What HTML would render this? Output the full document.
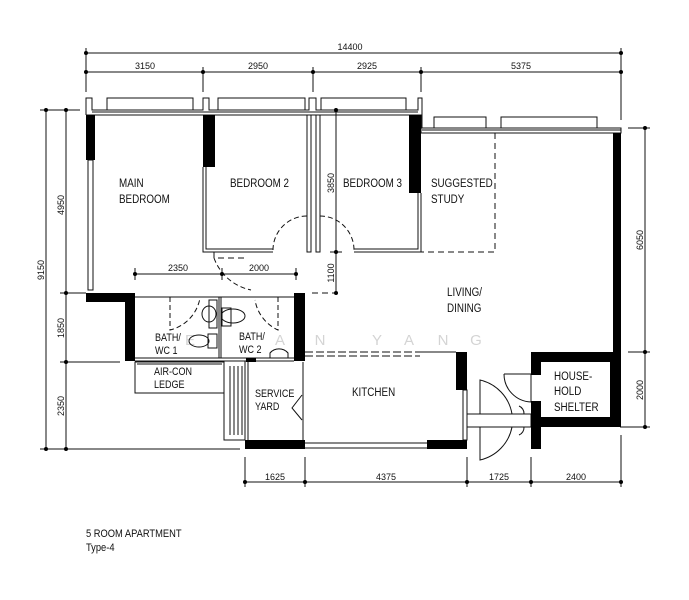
<!DOCTYPE html>
<html><head><meta charset="utf-8"><style>
html,body{margin:0;padding:0;background:#fff;}
svg{display:block;}
text{font-family:"Liberation Sans Narrow","Liberation Sans",sans-serif;fill:#111;}
</style></head><body>
<svg width="689" height="600" viewBox="0 0 689 600" xmlns="http://www.w3.org/2000/svg">
<g font-size="15" text-anchor="middle" style="fill:#d4d4d4">
<text x="190" y="345" style="fill:#d4d4d4">E</text>
<text x="280" y="345" style="fill:#d4d4d4">A</text>
<text x="320" y="345" style="fill:#d4d4d4">N</text>
<text x="377" y="345" style="fill:#d4d4d4">Y</text>
<text x="409" y="345" style="fill:#d4d4d4">A</text>
<text x="443" y="345" style="fill:#d4d4d4">N</text>
<text x="476" y="345" style="fill:#d4d4d4">G</text>
</g>
<g stroke="#111" stroke-width="1" fill="none">
<line x1="86" y1="53" x2="621" y2="53"/>
<line x1="86" y1="72" x2="621" y2="72"/>
<line x1="86" y1="48" x2="86" y2="92"/>
<line x1="203" y1="67" x2="203" y2="92"/>
<line x1="313" y1="67" x2="313" y2="92"/>
<line x1="421" y1="67" x2="421" y2="92"/>
<line x1="621" y1="48" x2="621" y2="120"/>
<line x1="46" y1="110" x2="46" y2="449"/>
<line x1="66" y1="110" x2="66" y2="449"/>
<line x1="40" y1="110" x2="80" y2="110"/>
<line x1="60" y1="293" x2="86" y2="293"/>
<line x1="60" y1="362" x2="120" y2="362"/>
<line x1="40" y1="449" x2="240" y2="449"/>
<line x1="645" y1="128" x2="645" y2="427"/>
<line x1="628" y1="128" x2="650" y2="128"/>
<line x1="628" y1="352" x2="650" y2="352"/>
<line x1="620" y1="427" x2="650" y2="427"/>
<line x1="245" y1="482" x2="621" y2="482"/>
<line x1="245" y1="457" x2="245" y2="487"/>
<line x1="305" y1="457" x2="305" y2="487"/>
<line x1="467" y1="457" x2="467" y2="487"/>
<line x1="531" y1="457" x2="531" y2="487"/>
<line x1="621" y1="435" x2="621" y2="487"/>
<line x1="135" y1="274" x2="296" y2="274"/>
<line x1="135" y1="268" x2="135" y2="280"/>
<line x1="222" y1="268" x2="222" y2="280"/>
<line x1="296" y1="268" x2="296" y2="280"/>
<line x1="336" y1="110" x2="336" y2="293"/>
<line x1="330" y1="252" x2="342" y2="252"/>
<line x1="312" y1="293" x2="340" y2="293" stroke-dasharray="6,4"/>
<polyline points="86,115 86,98 92,98 92,110 203,110 203,98 209,98 209,110 309,110 309,98 316,98 316,110 418,110 418,98 422,98 422,128 621,128 621,133 421,133 421,115 86,115"/>
<line x1="92" y1="112" x2="418" y2="112"/>
<rect x="107" y="98" width="86" height="12"/>
<rect x="218" y="98" width="87" height="12"/>
<rect x="321" y="98" width="85" height="12"/>
<rect x="434" y="117" width="52" height="11"/>
<rect x="501" y="117" width="96" height="11"/>
<line x1="422" y1="130" x2="621" y2="130"/>
<rect x="88" y="160" width="5" height="130"/>
<polyline points="203,167 203,252 273,252"/>
<polyline points="206,167 206,249 273,249"/>
<path d="M273,250 A34,34 0 0 1 307,216" stroke-dasharray="5,3"/>
<line x1="307" y1="216" x2="307" y2="252" stroke-dasharray="5,3"/>
<rect x="307" y="115" width="4" height="137"/>
<rect x="316" y="115" width="4" height="137"/>
<line x1="320" y1="216" x2="320" y2="252" stroke-dasharray="5,3"/>
<path d="M320,216 A34,34 0 0 1 354,250" stroke-dasharray="5,3"/>
<polyline points="354,249 418,249 418,193"/>
<polyline points="354,252 421,252 421,193"/>
<polyline points="495,133 495,252 421,252" stroke-dasharray="6,4"/>
<polyline points="214,252 214,258 245,258" stroke-dasharray="6,4"/>
<path d="M214,258 A50,50 0 0 0 251,290" stroke-dasharray="5,3"/>
<line x1="135" y1="297" x2="294" y2="297"/>
<rect x="219" y="297" width="2" height="61"/>
<line x1="135" y1="358" x2="294" y2="358"/>
<line x1="135" y1="361" x2="294" y2="361"/>
<path d="M170,297 L170,330 A40,40 0 0 0 200,298" stroke-dasharray="5,3"/>
<path d="M278,297 L278,330 A40,40 0 0 1 255,300" stroke-dasharray="5,3"/>
<ellipse cx="209" cy="314" rx="7" ry="8"/>
<rect x="209" y="300" width="8" height="28"/>
<ellipse cx="199" cy="341" rx="10" ry="6"/>
<rect x="208" y="334" width="9" height="14"/>
<ellipse cx="233" cy="316" rx="12" ry="7"/>
<rect x="222" y="308" width="9" height="18"/>
<path d="M270,358 L270,353 A12,12 0 0 1 288,353 L288,358"/>
<rect x="135" y="362" width="89" height="31"/>
<line x1="137" y1="364" x2="222" y2="364"/>
<rect x="224" y="361" width="21" height="79"/>
<line x1="230" y1="366" x2="230" y2="435"/><line x1="234" y1="366" x2="234" y2="435"/><line x1="238" y1="366" x2="238" y2="435"/><line x1="242" y1="366" x2="242" y2="435"/>
<line x1="248" y1="361" x2="248" y2="440"/>
<line x1="303" y1="362" x2="303" y2="440"/>
<polyline points="302,395 292,408 302,420"/>
<line x1="305" y1="352" x2="420" y2="352" stroke-dasharray="8,3"/>
<line x1="305" y1="356" x2="420" y2="356" stroke-dasharray="8,3"/>
<line x1="420" y1="352" x2="456" y2="352"/>
<line x1="305" y1="443" x2="427" y2="443"/>
<line x1="305" y1="448" x2="427" y2="448"/>
<rect x="463" y="390" width="4" height="50"/>
<rect x="467" y="414" width="64" height="13"/>
<path d="M480,380 A42,42 0 0 1 512,414 L480,414 Z"/>
<path d="M480,460 A42,42 0 0 0 512,427 L480,427 Z"/>
<path d="M519,406 A8,8 0 0 1 524,414 M519,435 A8,8 0 0 0 524,427"/>
<path d="M504,374 L531,374 L531,402 A28,28 0 0 1 504,374"/>
</g>
<g fill="#000">
<rect x="86" y="115" width="9" height="45"/>
<rect x="203" y="115" width="12" height="52"/>
<rect x="409" y="115" width="12" height="78"/>
<rect x="613" y="133" width="8" height="219"/>
<path d="M531,352 H621 V427 H541 V449 H531 Z M541,362 V375 H531 V401 H541 V417 H610 V362 Z" fill-rule="evenodd"/>
<rect x="86" y="293" width="49" height="9"/>
<rect x="125" y="293" width="10" height="68"/>
<rect x="294" y="293" width="11" height="68"/>
<rect x="245" y="440" width="60" height="9"/>
<rect x="456" y="352" width="11" height="38"/>
<rect x="427" y="440" width="40" height="9"/>
<rect x="246" y="358" width="10" height="4"/>
<circle cx="86" cy="53" r="2"/><circle cx="621" cy="53" r="2"/>
<circle cx="86" cy="72" r="2"/><circle cx="203" cy="72" r="2"/><circle cx="313" cy="72" r="2"/><circle cx="421" cy="72" r="2"/><circle cx="621" cy="72" r="2"/>
<circle cx="46" cy="110" r="2"/><circle cx="66" cy="110" r="2"/><circle cx="66" cy="293" r="2"/><circle cx="66" cy="362" r="2"/><circle cx="46" cy="449" r="2"/><circle cx="66" cy="449" r="2"/>
<circle cx="645" cy="128" r="2"/><circle cx="645" cy="352" r="2"/><circle cx="645" cy="427" r="2"/>
<circle cx="245" cy="482" r="2"/><circle cx="305" cy="482" r="2"/><circle cx="467" cy="482" r="2"/><circle cx="531" cy="482" r="2"/><circle cx="621" cy="482" r="2"/>
<circle cx="135" cy="274" r="2"/><circle cx="222" cy="274" r="2"/><circle cx="296" cy="274" r="2"/>
<circle cx="336" cy="110" r="2"/><circle cx="336" cy="252" r="2"/><circle cx="336" cy="293" r="2"/>
</g>
<g font-size="9" text-anchor="middle">
<text x="350" y="50">14400</text>
<text x="145" y="69">3150</text>
<text x="258" y="69">2950</text>
<text x="367" y="69">2925</text>
<text x="521" y="69">5375</text>
<text x="178" y="271">2350</text>
<text x="259" y="271">2000</text>
<text x="275" y="480">1625</text>
<text x="386" y="480">4375</text>
<text x="499" y="480">1725</text>
<text x="576" y="480">2400</text>
<text transform="translate(44,270) rotate(-90)">9150</text>
<text transform="translate(64,205) rotate(-90)">4950</text>
<text transform="translate(64,328) rotate(-90)">1850</text>
<text transform="translate(64,406) rotate(-90)">2350</text>
<text transform="translate(643,240) rotate(-90)">6050</text>
<text transform="translate(643,390) rotate(-90)">2000</text>
<text transform="translate(334,183) rotate(-90)">3850</text>
<text transform="translate(334,273) rotate(-90)">1100</text>
</g>
<g font-size="12">
<text transform="translate(119,187) scale(0.82,1)">MAIN</text>
<text transform="translate(119,203) scale(0.82,1)">BEDROOM</text>
<text transform="translate(230,187) scale(0.82,1)">BEDROOM 2</text>
<text transform="translate(343,187) scale(0.82,1)">BEDROOM 3</text>
<text transform="translate(431,187) scale(0.82,1)">SUGGESTED</text>
<text transform="translate(431,203) scale(0.82,1)">STUDY</text>
<text transform="translate(447,296) scale(0.82,1)">LIVING/</text>
<text transform="translate(447,312) scale(0.82,1)">DINING</text>
<text transform="translate(352,396) scale(0.82,1)">KITCHEN</text>
<text transform="translate(554,380) scale(0.82,1)">HOUSE-</text>
<text transform="translate(554,395) scale(0.82,1)">HOLD</text>
<text transform="translate(554,411) scale(0.82,1)">SHELTER</text>
</g>
<g font-size="11">
<text transform="translate(155,341) scale(0.82,1)">BATH/</text>
<text transform="translate(155,354) scale(0.82,1)">WC 1</text>
<text transform="translate(239,340) scale(0.82,1)">BATH/</text>
<text transform="translate(239,353) scale(0.82,1)">WC 2</text>
<text transform="translate(154,375) scale(0.82,1)">AIR-CON</text>
<text transform="translate(154,388) scale(0.82,1)">LEDGE</text>
<text transform="translate(255,397) scale(0.82,1)">SERVICE</text>
<text transform="translate(255,410) scale(0.82,1)">YARD</text>
<text transform="translate(86,537) scale(0.85,1)">5 ROOM APARTMENT</text>
<text transform="translate(86,551) scale(0.85,1)">Type-4</text>
</g>
</svg>
</body></html>
